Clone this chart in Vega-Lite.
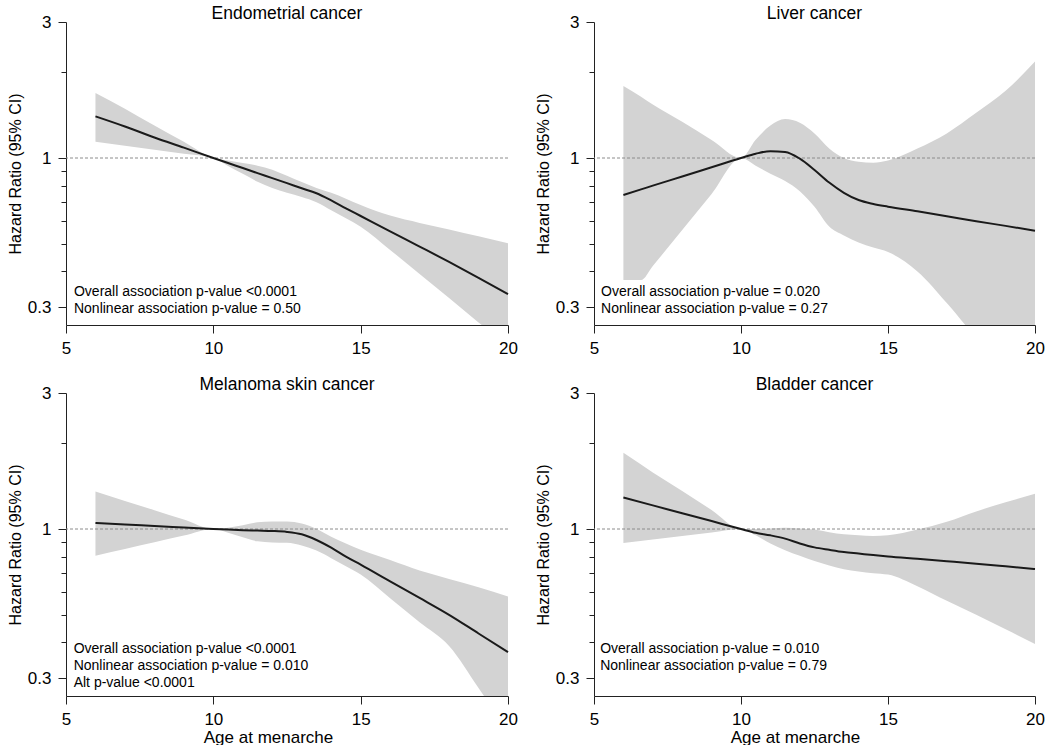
{
  "$schema": "https://vega.github.io/schema/vega-lite/v6.json",
  "background": "white",
  "padding": {"left": 7, "top": 4, "right": 0, "bottom": 0},
  "config": {
    "font": "Liberation Sans",
    "view": {"stroke": null},
    "axis": {"domainColor": "#222", "tickColor": "#222", "labelColor": "#000", "titleColor": "#000", "grid": false, "labelFontSize": 17, "titleFontWeight": "normal", "labelFont": "Liberation Sans", "titleFont": "Liberation Sans", "domainWidth": 1, "tickWidth": 1, "labelFlush": false, "labelOverlap": false},
    "title": {"fontSize": 17.5, "fontWeight": "normal", "color": "#000", "font": "Liberation Sans", "anchor": "middle", "frame": "group", "baseline": "alphabetic", "offset": -9}
  },
  "spacing": {"row": 19, "column": 17},
  "columns": 2,
  "datasets": {
    "curves": [
      {"panel": "Endometrial cancer", "age": 6, "hr": 1.40, "lo": 1.14, "hi": 1.69},
      {"panel": "Endometrial cancer", "age": 7, "hr": 1.29, "lo": 1.105, "hi": 1.49},
      {"panel": "Endometrial cancer", "age": 8, "hr": 1.18, "lo": 1.07, "hi": 1.30},
      {"panel": "Endometrial cancer", "age": 9, "hr": 1.087, "lo": 1.035, "hi": 1.14},
      {"panel": "Endometrial cancer", "age": 10, "hr": 1.0, "lo": 1.0, "hi": 1.0},
      {"panel": "Endometrial cancer", "age": 10.5, "hr": 0.96, "lo": 0.938, "hi": 0.98},
      {"panel": "Endometrial cancer", "age": 11, "hr": 0.922, "lo": 0.88, "hi": 0.96},
      {"panel": "Endometrial cancer", "age": 11.5, "hr": 0.885, "lo": 0.826, "hi": 0.94},
      {"panel": "Endometrial cancer", "age": 12, "hr": 0.85, "lo": 0.785, "hi": 0.91},
      {"panel": "Endometrial cancer", "age": 12.5, "hr": 0.816, "lo": 0.755, "hi": 0.866},
      {"panel": "Endometrial cancer", "age": 13, "hr": 0.783, "lo": 0.73, "hi": 0.823},
      {"panel": "Endometrial cancer", "age": 13.5, "hr": 0.752, "lo": 0.70, "hi": 0.785},
      {"panel": "Endometrial cancer", "age": 14, "hr": 0.71, "lo": 0.656, "hi": 0.755},
      {"panel": "Endometrial cancer", "age": 14.5, "hr": 0.666, "lo": 0.615, "hi": 0.72},
      {"panel": "Endometrial cancer", "age": 15, "hr": 0.626, "lo": 0.574, "hi": 0.684},
      {"panel": "Endometrial cancer", "age": 16, "hr": 0.553, "lo": 0.476, "hi": 0.628},
      {"panel": "Endometrial cancer", "age": 17, "hr": 0.489, "lo": 0.392, "hi": 0.592},
      {"panel": "Endometrial cancer", "age": 18, "hr": 0.432, "lo": 0.323, "hi": 0.561},
      {"panel": "Endometrial cancer", "age": 19, "hr": 0.38, "lo": 0.265, "hi": 0.531},
      {"panel": "Endometrial cancer", "age": 20, "hr": 0.333, "lo": 0.22, "hi": 0.502},
      {"panel": "Liver cancer", "age": 6, "hr": 0.742, "lo": 0.373, "hi": 1.79},
      {"panel": "Liver cancer", "age": 6.6, "hr": 0.776, "lo": 0.373, "hi": 1.64},
      {"panel": "Liver cancer", "age": 7, "hr": 0.80, "lo": 0.418, "hi": 1.54},
      {"panel": "Liver cancer", "age": 8, "hr": 0.861, "lo": 0.559, "hi": 1.34},
      {"panel": "Liver cancer", "age": 9, "hr": 0.928, "lo": 0.748, "hi": 1.157},
      {"panel": "Liver cancer", "age": 10, "hr": 1.0, "lo": 1.0, "hi": 1.0},
      {"panel": "Liver cancer", "age": 10.5, "hr": 1.035, "lo": 0.94, "hi": 1.16},
      {"panel": "Liver cancer", "age": 11, "hr": 1.057, "lo": 0.88, "hi": 1.30},
      {"panel": "Liver cancer", "age": 11.5, "hr": 1.05, "lo": 0.83, "hi": 1.37},
      {"panel": "Liver cancer", "age": 12, "hr": 0.995, "lo": 0.765, "hi": 1.33},
      {"panel": "Liver cancer", "age": 12.5, "hr": 0.908, "lo": 0.675, "hi": 1.22},
      {"panel": "Liver cancer", "age": 13, "hr": 0.82, "lo": 0.575, "hi": 1.08},
      {"panel": "Liver cancer", "age": 13.5, "hr": 0.755, "lo": 0.535, "hi": 1.0},
      {"panel": "Liver cancer", "age": 14, "hr": 0.712, "lo": 0.505, "hi": 0.97},
      {"panel": "Liver cancer", "age": 14.5, "hr": 0.69, "lo": 0.485, "hi": 0.963},
      {"panel": "Liver cancer", "age": 15, "hr": 0.675, "lo": 0.468, "hi": 0.98},
      {"panel": "Liver cancer", "age": 16, "hr": 0.65, "lo": 0.40, "hi": 1.08},
      {"panel": "Liver cancer", "age": 17, "hr": 0.625, "lo": 0.31, "hi": 1.22},
      {"panel": "Liver cancer", "age": 18, "hr": 0.60, "lo": 0.235, "hi": 1.44},
      {"panel": "Liver cancer", "age": 19, "hr": 0.578, "lo": 0.19, "hi": 1.72},
      {"panel": "Liver cancer", "age": 20, "hr": 0.556, "lo": 0.15, "hi": 2.18},
      {"panel": "Melanoma skin cancer", "age": 6, "hr": 1.05, "lo": 0.806, "hi": 1.355},
      {"panel": "Melanoma skin cancer", "age": 7, "hr": 1.037, "lo": 0.851, "hi": 1.255},
      {"panel": "Melanoma skin cancer", "age": 8, "hr": 1.025, "lo": 0.898, "hi": 1.164},
      {"panel": "Melanoma skin cancer", "age": 9, "hr": 1.012, "lo": 0.948, "hi": 1.079},
      {"panel": "Melanoma skin cancer", "age": 10, "hr": 1.0, "lo": 1.0, "hi": 1.0},
      {"panel": "Melanoma skin cancer", "age": 10.5, "hr": 0.995, "lo": 0.97, "hi": 1.01},
      {"panel": "Melanoma skin cancer", "age": 11, "hr": 0.99, "lo": 0.935, "hi": 1.03},
      {"panel": "Melanoma skin cancer", "age": 11.5, "hr": 0.987, "lo": 0.905, "hi": 1.055},
      {"panel": "Melanoma skin cancer", "age": 12, "hr": 0.984, "lo": 0.897, "hi": 1.062},
      {"panel": "Melanoma skin cancer", "age": 12.5, "hr": 0.977, "lo": 0.895, "hi": 1.062},
      {"panel": "Melanoma skin cancer", "age": 13, "hr": 0.958, "lo": 0.875, "hi": 1.045},
      {"panel": "Melanoma skin cancer", "age": 13.5, "hr": 0.915, "lo": 0.84, "hi": 1.0},
      {"panel": "Melanoma skin cancer", "age": 14, "hr": 0.86, "lo": 0.79, "hi": 0.94},
      {"panel": "Melanoma skin cancer", "age": 14.5, "hr": 0.80, "lo": 0.74, "hi": 0.89},
      {"panel": "Melanoma skin cancer", "age": 15, "hr": 0.75, "lo": 0.692, "hi": 0.846},
      {"panel": "Melanoma skin cancer", "age": 16, "hr": 0.655, "lo": 0.571, "hi": 0.778},
      {"panel": "Melanoma skin cancer", "age": 17, "hr": 0.573, "lo": 0.471, "hi": 0.715},
      {"panel": "Melanoma skin cancer", "age": 18, "hr": 0.50, "lo": 0.389, "hi": 0.668},
      {"panel": "Melanoma skin cancer", "age": 19, "hr": 0.43, "lo": 0.277, "hi": 0.625},
      {"panel": "Melanoma skin cancer", "age": 20, "hr": 0.37, "lo": 0.194, "hi": 0.58},
      {"panel": "Bladder cancer", "age": 6, "hr": 1.29, "lo": 0.893, "hi": 1.85},
      {"panel": "Bladder cancer", "age": 7, "hr": 1.21, "lo": 0.918, "hi": 1.58},
      {"panel": "Bladder cancer", "age": 8, "hr": 1.136, "lo": 0.945, "hi": 1.36},
      {"panel": "Bladder cancer", "age": 9, "hr": 1.066, "lo": 0.972, "hi": 1.166},
      {"panel": "Bladder cancer", "age": 10, "hr": 1.0, "lo": 1.0, "hi": 1.0},
      {"panel": "Bladder cancer", "age": 10.5, "hr": 0.97, "lo": 0.95, "hi": 1.0},
      {"panel": "Bladder cancer", "age": 11, "hr": 0.95, "lo": 0.89, "hi": 1.005},
      {"panel": "Bladder cancer", "age": 11.5, "hr": 0.925, "lo": 0.843, "hi": 1.01},
      {"panel": "Bladder cancer", "age": 12, "hr": 0.89, "lo": 0.805, "hi": 1.005},
      {"panel": "Bladder cancer", "age": 12.5, "hr": 0.862, "lo": 0.772, "hi": 0.995},
      {"panel": "Bladder cancer", "age": 13, "hr": 0.845, "lo": 0.745, "hi": 0.975},
      {"panel": "Bladder cancer", "age": 13.5, "hr": 0.83, "lo": 0.722, "hi": 0.958},
      {"panel": "Bladder cancer", "age": 14, "hr": 0.82, "lo": 0.71, "hi": 0.95},
      {"panel": "Bladder cancer", "age": 14.5, "hr": 0.81, "lo": 0.70, "hi": 0.945},
      {"panel": "Bladder cancer", "age": 15, "hr": 0.801, "lo": 0.692, "hi": 0.95},
      {"panel": "Bladder cancer", "age": 16, "hr": 0.786, "lo": 0.63, "hi": 0.995},
      {"panel": "Bladder cancer", "age": 17, "hr": 0.771, "lo": 0.56, "hi": 1.06},
      {"panel": "Bladder cancer", "age": 18, "hr": 0.756, "lo": 0.50, "hi": 1.153},
      {"panel": "Bladder cancer", "age": 19, "hr": 0.74, "lo": 0.445, "hi": 1.24},
      {"panel": "Bladder cancer", "age": 20, "hr": 0.724, "lo": 0.395, "hi": 1.33}
    ],
    "notes": [
      {"panel": "Endometrial cancer", "note": "Overall association p-value <0.0001\nNonlinear association p-value = 0.50"},
      {"panel": "Liver cancer", "note": "Overall association p-value = 0.020\nNonlinear association p-value = 0.27"},
      {"panel": "Melanoma skin cancer", "note": "Overall association p-value <0.0001\nNonlinear association p-value = 0.010\nAlt p-value <0.0001"},
      {"panel": "Bladder cancer", "note": "Overall association p-value = 0.010\nNonlinear association p-value = 0.79"}
    ]
  },
  "concat": [
    {
      "title": "Endometrial cancer",
      "width": 442, "height": 303,
      "layer": [
        {"data": {"name": "curves"}, "transform": [{"filter": "datum.panel === 'Endometrial cancer'"}],
         "mark": {"type": "area", "color": "#d3d3d3", "clip": true, "interpolate": "monotone"},
         "encoding": {
           "x": {"field": "age", "type": "quantitative", "scale": {"domain": [5, 20], "nice": false, "zero": false}, "axis": {"values": [5, 10, 15, 20], "tickSize": 8, "labelPadding": 7, "title": null}},
           "y": {"field": "lo", "type": "quantitative", "scale": {"type": "log", "domain": [0.2595, 3], "nice": false}, "axis": {"values": [0.3, 0.4, 0.5, 0.6, 0.7, 0.8, 0.9, 1, 2, 3], "format": "~g", "labelExpr": "datum.value == 1 || datum.value == 3 || datum.value == 0.3 ? datum.label : ''", "tickSize": {"condition": {"test": "datum.value == 1 || datum.value == 3 || datum.value == 0.3", "value": 8}, "value": 5}, "labelPadding": 7, "title": "Hazard Ratio (95% CI)", "titleFontSize": 16, "titlePadding": 4}},
           "y2": {"field": "hi"}
         }},
        {"data": {"name": "notes"}, "transform": [{"filter": "datum.panel === 'Endometrial cancer'"}],
         "mark": {"type": "rule", "color": "#8c8c8c", "strokeDash": [3, 2], "strokeWidth": 1},
         "encoding": {"y": {"datum": 1, "type": "quantitative"}}},
        {"data": {"name": "curves"}, "transform": [{"filter": "datum.panel === 'Endometrial cancer'"}],
         "mark": {"type": "line", "color": "#1a1a1a", "strokeWidth": 2, "interpolate": "monotone"},
         "encoding": {
           "x": {"field": "age", "type": "quantitative"},
           "y": {"field": "hr", "type": "quantitative"}
         }},
        {"data": {"name": "notes"}, "transform": [{"filter": "datum.panel === 'Endometrial cancer'"}],
         "mark": {"type": "text", "align": "left", "baseline": "top", "fontSize": 14, "lineHeight": 17, "lineBreak": "\n", "color": "#000"},
         "encoding": {
           "x": {"datum": 5.27, "type": "quantitative"},
           "y": {"datum": 0.3584, "type": "quantitative"},
           "text": {"field": "note"}
         }}
      ]
    },
    {
      "title": "Liver cancer",
      "width": 441, "height": 303,
      "layer": [
        {"data": {"name": "curves"}, "transform": [{"filter": "datum.panel === 'Liver cancer'"}],
         "mark": {"type": "area", "color": "#d3d3d3", "clip": true, "interpolate": "monotone"},
         "encoding": {
           "x": {"field": "age", "type": "quantitative", "scale": {"domain": [5, 20], "nice": false, "zero": false}, "axis": {"values": [5, 10, 15, 20], "tickSize": 8, "labelPadding": 7, "title": null}},
           "y": {"field": "lo", "type": "quantitative", "scale": {"type": "log", "domain": [0.2595, 3], "nice": false}, "axis": {"values": [0.3, 0.4, 0.5, 0.6, 0.7, 0.8, 0.9, 1, 2, 3], "format": "~g", "labelExpr": "datum.value == 1 || datum.value == 3 || datum.value == 0.3 ? datum.label : ''", "tickSize": {"condition": {"test": "datum.value == 1 || datum.value == 3 || datum.value == 0.3", "value": 8}, "value": 5}, "labelPadding": 7, "title": "Hazard Ratio (95% CI)", "titleFontSize": 16, "titlePadding": 4}},
           "y2": {"field": "hi"}
         }},
        {"data": {"name": "notes"}, "transform": [{"filter": "datum.panel === 'Liver cancer'"}],
         "mark": {"type": "rule", "color": "#8c8c8c", "strokeDash": [3, 2], "strokeWidth": 1},
         "encoding": {"y": {"datum": 1, "type": "quantitative"}}},
        {"data": {"name": "curves"}, "transform": [{"filter": "datum.panel === 'Liver cancer'"}],
         "mark": {"type": "line", "color": "#1a1a1a", "strokeWidth": 2, "interpolate": "monotone"},
         "encoding": {
           "x": {"field": "age", "type": "quantitative"},
           "y": {"field": "hr", "type": "quantitative"}
         }},
        {"data": {"name": "notes"}, "transform": [{"filter": "datum.panel === 'Liver cancer'"}],
         "mark": {"type": "text", "align": "left", "baseline": "top", "fontSize": 14, "lineHeight": 17, "lineBreak": "\n", "color": "#000"},
         "encoding": {
           "x": {"datum": 5.24, "type": "quantitative"},
           "y": {"datum": 0.3584, "type": "quantitative"},
           "text": {"field": "note"}
         }}
      ]
    },
    {
      "title": "Melanoma skin cancer",
      "width": 442, "height": 303,
      "layer": [
        {"data": {"name": "curves"}, "transform": [{"filter": "datum.panel === 'Melanoma skin cancer'"}],
         "mark": {"type": "area", "color": "#d3d3d3", "clip": true, "interpolate": "monotone"},
         "encoding": {
           "x": {"field": "age", "type": "quantitative", "scale": {"domain": [5, 20], "nice": false, "zero": false}, "axis": {"values": [5, 10, 15, 20], "tickSize": 8, "labelPadding": 7, "title": "Age at menarche", "titleFontSize": 17, "titlePadding": 2, "titleX": 202}},
           "y": {"field": "lo", "type": "quantitative", "scale": {"type": "log", "domain": [0.2595, 3], "nice": false}, "axis": {"values": [0.3, 0.4, 0.5, 0.6, 0.7, 0.8, 0.9, 1, 2, 3], "format": "~g", "labelExpr": "datum.value == 1 || datum.value == 3 || datum.value == 0.3 ? datum.label : ''", "tickSize": {"condition": {"test": "datum.value == 1 || datum.value == 3 || datum.value == 0.3", "value": 8}, "value": 5}, "labelPadding": 7, "title": "Hazard Ratio (95% CI)", "titleFontSize": 16, "titlePadding": 4}},
           "y2": {"field": "hi"}
         }},
        {"data": {"name": "notes"}, "transform": [{"filter": "datum.panel === 'Melanoma skin cancer'"}],
         "mark": {"type": "rule", "color": "#8c8c8c", "strokeDash": [3, 2], "strokeWidth": 1},
         "encoding": {"y": {"datum": 1, "type": "quantitative"}}},
        {"data": {"name": "curves"}, "transform": [{"filter": "datum.panel === 'Melanoma skin cancer'"}],
         "mark": {"type": "line", "color": "#1a1a1a", "strokeWidth": 2, "interpolate": "monotone"},
         "encoding": {
           "x": {"field": "age", "type": "quantitative"},
           "y": {"field": "hr", "type": "quantitative"}
         }},
        {"data": {"name": "notes"}, "transform": [{"filter": "datum.panel === 'Melanoma skin cancer'"}],
         "mark": {"type": "text", "align": "left", "baseline": "top", "fontSize": 14, "lineHeight": 17, "lineBreak": "\n", "color": "#000"},
         "encoding": {
           "x": {"datum": 5.26, "type": "quantitative"},
           "y": {"datum": 0.401, "type": "quantitative"},
           "text": {"field": "note"}
         }}
      ]
    },
    {
      "title": "Bladder cancer",
      "width": 441, "height": 303,
      "layer": [
        {"data": {"name": "curves"}, "transform": [{"filter": "datum.panel === 'Bladder cancer'"}],
         "mark": {"type": "area", "color": "#d3d3d3", "clip": true, "interpolate": "monotone"},
         "encoding": {
           "x": {"field": "age", "type": "quantitative", "scale": {"domain": [5, 20], "nice": false, "zero": false}, "axis": {"values": [5, 10, 15, 20], "tickSize": 8, "labelPadding": 7, "title": "Age at menarche", "titleFontSize": 17, "titlePadding": 2, "titleX": 201}},
           "y": {"field": "lo", "type": "quantitative", "scale": {"type": "log", "domain": [0.2595, 3], "nice": false}, "axis": {"values": [0.3, 0.4, 0.5, 0.6, 0.7, 0.8, 0.9, 1, 2, 3], "format": "~g", "labelExpr": "datum.value == 1 || datum.value == 3 || datum.value == 0.3 ? datum.label : ''", "tickSize": {"condition": {"test": "datum.value == 1 || datum.value == 3 || datum.value == 0.3", "value": 8}, "value": 5}, "labelPadding": 7, "title": "Hazard Ratio (95% CI)", "titleFontSize": 16, "titlePadding": 4}},
           "y2": {"field": "hi"}
         }},
        {"data": {"name": "notes"}, "transform": [{"filter": "datum.panel === 'Bladder cancer'"}],
         "mark": {"type": "rule", "color": "#8c8c8c", "strokeDash": [3, 2], "strokeWidth": 1},
         "encoding": {"y": {"datum": 1, "type": "quantitative"}}},
        {"data": {"name": "curves"}, "transform": [{"filter": "datum.panel === 'Bladder cancer'"}],
         "mark": {"type": "line", "color": "#1a1a1a", "strokeWidth": 2, "interpolate": "monotone"},
         "encoding": {
           "x": {"field": "age", "type": "quantitative"},
           "y": {"field": "hr", "type": "quantitative"}
         }},
        {"data": {"name": "notes"}, "transform": [{"filter": "datum.panel === 'Bladder cancer'"}],
         "mark": {"type": "text", "align": "left", "baseline": "top", "fontSize": 14, "lineHeight": 17, "lineBreak": "\n", "color": "#000"},
         "encoding": {
           "x": {"datum": 5.21, "type": "quantitative"},
           "y": {"datum": 0.401, "type": "quantitative"},
           "text": {"field": "note"}
         }}
      ]
    }
  ]
}
